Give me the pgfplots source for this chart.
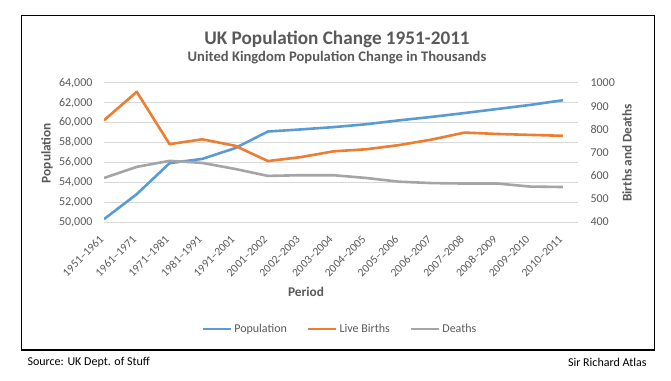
\documentclass[border=0pt]{standalone}
\usepackage{pgfplots}
\pgfplotsset{compat=1.18}
\usepackage{fontspec}
\setmainfont{Carlito}
\definecolor{pblue}{HTML}{5B9BD5}
\definecolor{porange}{HTML}{ED7D31}
\definecolor{pgray}{HTML}{A5A5A5}
\definecolor{tgray}{HTML}{595959}
\definecolor{gridc}{HTML}{D9D9D9}
\pgfplotsset{
  base/.style={
    at={(104bp,158bp)}, anchor=south west,
    scale only axis, width=474bp, height=139bp,
    xmin=0, xmax=14.46,
    /pgf/number format/assume math mode=true,
    major tick length=0pt,
    axis line style={draw=none},
    tick label style={font=\fontsize{12bp}{14bp}\selectfont, text=tgray},
  }
}
\begin{document}
\begin{tikzpicture}[x=1bp,y=1bp]
\useasboundingbox (0,0) rectangle (671,380);
\draw[line width=1bp] (21,364) rectangle (654,30);
\draw[line width=2.2bp] (21,30) -- (654,30);
\node[font=\fontsize{19.2bp}{22bp}\selectfont\bfseries, text=tgray] at (337,341) {UK Population Change 1951-2011};
\node[font=\fontsize{14.6bp}{16bp}\selectfont\bfseries, text=tgray] at (337,322) {United Kingdom Population Change in Thousands};
\node[rotate=90, font=\fontsize{13.3bp}{16bp}\selectfont\bfseries, text=tgray] at (47,227) {Population};
\node[rotate=90, font=\fontsize{13.3bp}{16bp}\selectfont\bfseries, text=tgray] at (627,227) {Births and Deaths};
\node[font=\fontsize{13.3bp}{16bp}\selectfont\bfseries, text=tgray] at (306,88) {Period};
\node[anchor=west, font=\fontsize{12bp}{14bp}\selectfont] at (24,18) {Source: UK Dept. of Stuff};
\node[anchor=east, font=\fontsize{12bp}{14bp}\selectfont] at (650,18) {Sir Richard Atlas};

\begin{axis}[base,
  ymin=50000, ymax=64000, ytick={50000,52000,...,64000},
  axis y line*=left, axis x line*=bottom,
  ymajorgrids, grid style={gridc, line width=1bp},
  /pgf/number format/1000 sep={,},
  scaled y ticks=false,
  yticklabel style={xshift=-8bp},
  xtick={0,...,14},
  xticklabels={1951--1961,1961--1971,1971--1981,1981--1991,1991--2001,2001--2002,2002--2003,2003--2004,2004--2005,2005--2006,2006--2007,2007--2008,2008--2009,2009--2010,2010--2011},
  xticklabel style={rotate=45, anchor=east, font=\fontsize{11.5bp}{13bp}\selectfont},
  xticklabel shift=13bp,
]
\addplot[pblue, line width=2.6bp, line join=round] coordinates {
(0,50287) (1,52807) (2,55928) (3,56357) (4,57439) (5,59113) (6,59323) (7,59557)
(8,59846) (9,60238) (10,60587) (11,60975) (12,61383) (13,61792) (14,62262)};
\end{axis}

\begin{axis}[base,
  ymin=400, ymax=1000, ytick={400,500,...,1000},
  axis y line*=right, axis x line=none,
  /pgf/number format/1000 sep={},
  yticklabel style={xshift=9bp},
  legend style={at={(0.498,-0.77)}, anchor=center, draw=none, fill=none,
    legend columns=3, font=\fontsize{12bp}{14bp}\selectfont, text=tgray,
    /tikz/every even column/.append style={column sep=18bp},
    inner sep=0pt},
  legend cell align=left,
  legend image code/.code={\draw[#1] (0bp,0bp) -- (28bp,0bp);},
]
\addlegendimage{pblue, line width=2.6bp}
\addlegendentry{Population}
\addplot[porange, line width=2.6bp, line join=round] coordinates {
(0,839) (1,962) (2,736) (3,757) (4,729) (5,663) (6,680) (7,705)
(8,714) (9,732) (10,756) (11,786) (12,780) (13,776) (14,772)};
\addlegendentry{Live Births}
\addplot[pgray, line width=2.6bp, line join=round] coordinates {
(0,590) (1,638) (2,664) (3,655) (4,629) (5,599) (6,602) (7,602)
(8,590) (9,574) (10,568) (11,566) (12,566) (13,553) (14,551)};
\addlegendentry{Deaths}
\end{axis}
\end{tikzpicture}
\end{document}
